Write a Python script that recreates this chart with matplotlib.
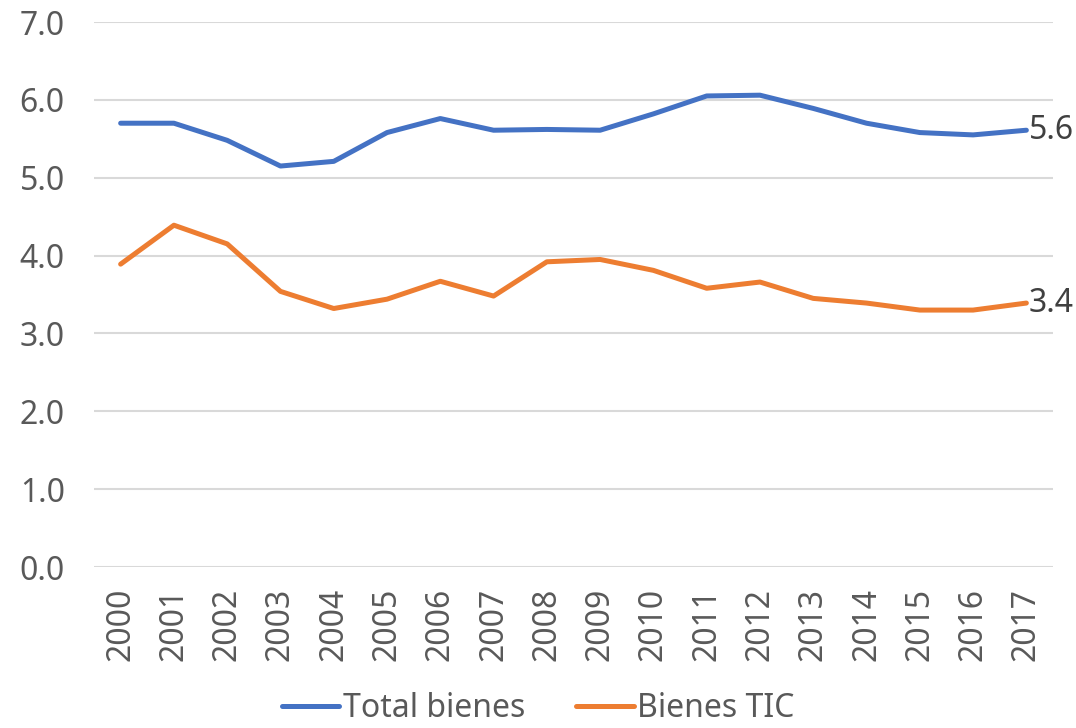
import numpy as np
import matplotlib.pyplot as plt

plt.rcParams['font.family'] = ['Noto Sans', 'DejaVu Sans']

# datos
anios = [str(a) for a in range(2000, 2018)]
total_bienes = [5.70, 5.70, 5.48, 5.15, 5.21, 5.58, 5.76, 5.61, 5.62, 5.61,
                5.82, 6.05, 6.06, 5.89, 5.70, 5.58, 5.55, 5.61]
bienes_tic = [3.89, 4.39, 4.15, 3.54, 3.32, 3.44, 3.67, 3.48, 3.92, 3.95,
              3.81, 3.58, 3.66, 3.45, 3.39, 3.30, 3.30, 3.39]
yticks = [0, 1, 2, 3, 4, 5, 6, 7]

gris = '#595959'
x = np.arange(len(anios))

fig = plt.figure(figsize=(10.76, 7.28), dpi=100)
ax = fig.add_axes([94 / 1076, 1 - 567 / 728, (1053 - 94) / 1076, (567 - 22) / 728])

ax.plot(x, total_bienes, color='#4472C4', lw=3.6, solid_capstyle='round', label='Total bienes')
ax.plot(x, bienes_tic, color='#ED7D31', lw=3.6, solid_capstyle='round', label='Bienes TIC')

ax.text(x[-1] + 0.05, total_bienes[-1], f'{total_bienes[-1]:.1f}', va='center', ha='left',
        fontsize=23, color='#404040')
ax.text(x[-1] + 0.05, bienes_tic[-1], f'{bienes_tic[-1]:.1f}', va='center', ha='left',
        fontsize=23, color='#404040')

ax.set_xlim(-0.5, len(anios) - 0.5)
ax.set_ylim(0, 7)
ax.set_yticks(yticks)
ax.set_yticklabels([f'{v:.1f}' for v in yticks], fontsize=23, color=gris)
ax.set_xticks(x)
ax.set_xticklabels(anios, rotation=90, fontsize=23, color=gris)
ax.tick_params(axis='y', length=0, pad=21)
ax.tick_params(axis='x', length=0, pad=15)
ax.grid(axis='y', color='#D9D9D9', lw=1.5)
ax.set_axisbelow(True)
for s in ax.spines.values():
    s.set_visible(False)

leg = fig.legend(loc='lower center', bbox_to_anchor=(0.5, -0.036), ncol=2, frameon=False,
                 fontsize=23, handlelength=1.8, handletextpad=0.1, columnspacing=1.6)
for t in leg.get_texts():
    t.set_color(gris)

fig.savefig('out.png', dpi=100)
